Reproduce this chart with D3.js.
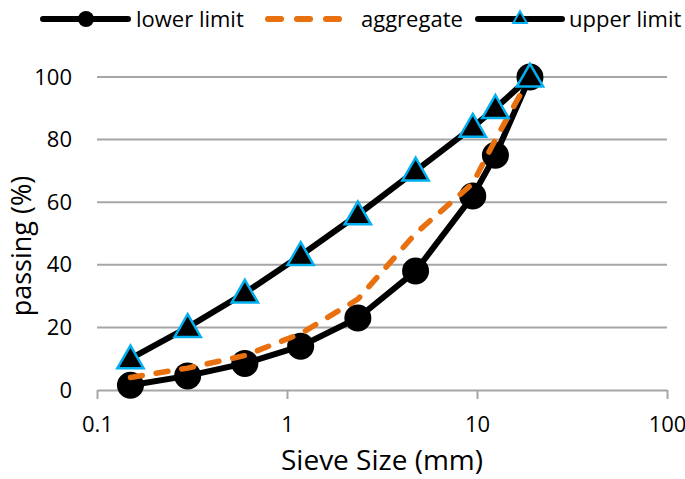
<!DOCTYPE html>
<html><head><meta charset="utf-8">
<script src="https://cdn.jsdelivr.net/npm/d3@7"></script>
<style>body{margin:0;background:#fff}svg{display:block;font-family:"Open Sans",sans-serif}</style>
</head><body><svg id="c" width="685" height="479"></svg>
<script>
const sieveSizes = [0.15, 0.3, 0.6, 1.18, 2.36, 4.75, 9.5, 12.5, 19];
const lowerLimit = [1.5, 4.5, 8.5, 14, 23, 38, 62, 75, 100];
const aggregate = [4, 7, 11, 18, 29, 50, 66, 80, 100];
const upperLimit = [10, 20, 31, 43, 56, 70, 84, 90, 100];
const xTicks = [0.1, 1, 10, 100];
const yTicks = [0, 20, 40, 60, 80, 100];
const seriesNames = ["lower limit", "aggregate", "upper limit"];

const svg = d3.select("#c");
const x = d3.scaleLog().domain([0.1, 100]).range([97, 667]);
const y = d3.scaleLinear().domain([0, 100]).range([390, 77]);
const orange = "#E8700F", cyan = "#00B0F0", grid = "#A6A6A6";

// gridlines
svg.append("g").selectAll("line").data(yTicks.filter(d => d > 0)).join("line")
  .attr("x1", 97).attr("x2", 667).attr("y1", d => y(d)).attr("y2", d => y(d))
  .attr("stroke", grid).attr("stroke-width", 2);

// x axis
const xa = svg.append("g").attr("transform", "translate(0,390)")
  .call(d3.axisBottom(x).tickValues(xTicks).tickFormat(d => String(d)).tickSize(9).tickSizeOuter(0));
xa.select(".domain").attr("stroke", grid).attr("stroke-width", 2);
xa.selectAll(".tick line").attr("stroke", grid).attr("stroke-width", 2);
xa.selectAll(".tick text").attr("fill", "#000").attr("font-size", 22).attr("y", 42).attr("dy", 0)
  .attr("font-family", "'Open Sans',sans-serif");

// y axis labels
const ya = svg.append("g").attr("transform", "translate(97,0)")
  .call(d3.axisLeft(y).tickValues(yTicks).tickSize(0).tickPadding(25));
ya.select(".domain").remove();
ya.selectAll(".tick text").attr("fill", "#000").attr("font-size", 22)
  .attr("font-family", "'Open Sans',sans-serif");

// titles
svg.append("text").attr("x", 382).attr("y", 470).attr("text-anchor", "middle")
  .attr("font-size", 28).text("Sieve Size (mm)");
svg.append("text").attr("transform", "translate(31,246) rotate(-90)").attr("text-anchor", "middle")
  .attr("font-size", 27).text("passing (%)");

const line = d3.line().x(d => x(d[0])).y(d => y(d[1]));
const lowPts = sieveSizes.map((s, i) => [s, lowerLimit[i]]);
const aggPts = sieveSizes.map((s, i) => [s, aggregate[i]]);
const upPts = sieveSizes.map((s, i) => [s, upperLimit[i]]);

// lower
svg.append("path").attr("d", line(lowPts)).attr("fill", "none").attr("stroke", "#000").attr("stroke-width", 6);
svg.append("g").selectAll("circle").data(lowPts).join("circle")
  .attr("cx", d => x(d[0])).attr("cy", d => y(d[1])).attr("r", 13.5).attr("fill", "#000");
// aggregate
svg.append("path").attr("d", line(aggPts)).attr("fill", "none").attr("stroke", orange)
  .attr("stroke-width", 5.5).attr("stroke-dasharray", "12 14").attr("stroke-linecap", "round");
// upper
svg.append("path").attr("d", line(upPts)).attr("fill", "none").attr("stroke", "#000").attr("stroke-width", 6);
const tri = d3.symbol().type(d3.symbolTriangle).size(300);
svg.append("g").selectAll("path").data(upPts).join("path")
  .attr("d", tri).attr("transform", d => `translate(${x(d[0])},${y(d[1]) + 2})`)
  .attr("fill", "#000").attr("stroke", cyan).attr("stroke-width", 2.5);

// legend
const ly = 19;
const lg = svg.append("g");
lg.append("line").attr("x1", 43).attr("x2", 128).attr("y1", ly).attr("y2", ly).attr("stroke", "#000").attr("stroke-width", 6).attr("stroke-linecap", "round");
lg.append("circle").attr("cx", 86).attr("cy", ly).attr("r", 8).attr("fill", "#000");
lg.append("text").attr("x", 136).attr("y", ly + 8).attr("font-size", 22).text(seriesNames[0]);
lg.append("line").attr("x1", 268).attr("x2", 342).attr("y1", ly).attr("y2", ly).attr("stroke", orange).attr("stroke-width", 6)
  .attr("stroke-dasharray", "13 16").attr("stroke-linecap", "round");
lg.append("text").attr("x", 361).attr("y", ly + 8).attr("font-size", 22).text(seriesNames[1]);
lg.append("line").attr("x1", 478).attr("x2", 562).attr("y1", ly).attr("y2", ly).attr("stroke", "#000").attr("stroke-width", 6).attr("stroke-linecap", "round");
lg.append("path").attr("d", d3.symbol().type(d3.symbolTriangle).size(80)).attr("transform", `translate(520,${ly})`)
  .attr("fill", "#000").attr("stroke", cyan).attr("stroke-width", 2);
lg.append("text").attr("x", 569).attr("y", ly + 8).attr("font-size", 22).text(seriesNames[2]);
</script></body></html>
